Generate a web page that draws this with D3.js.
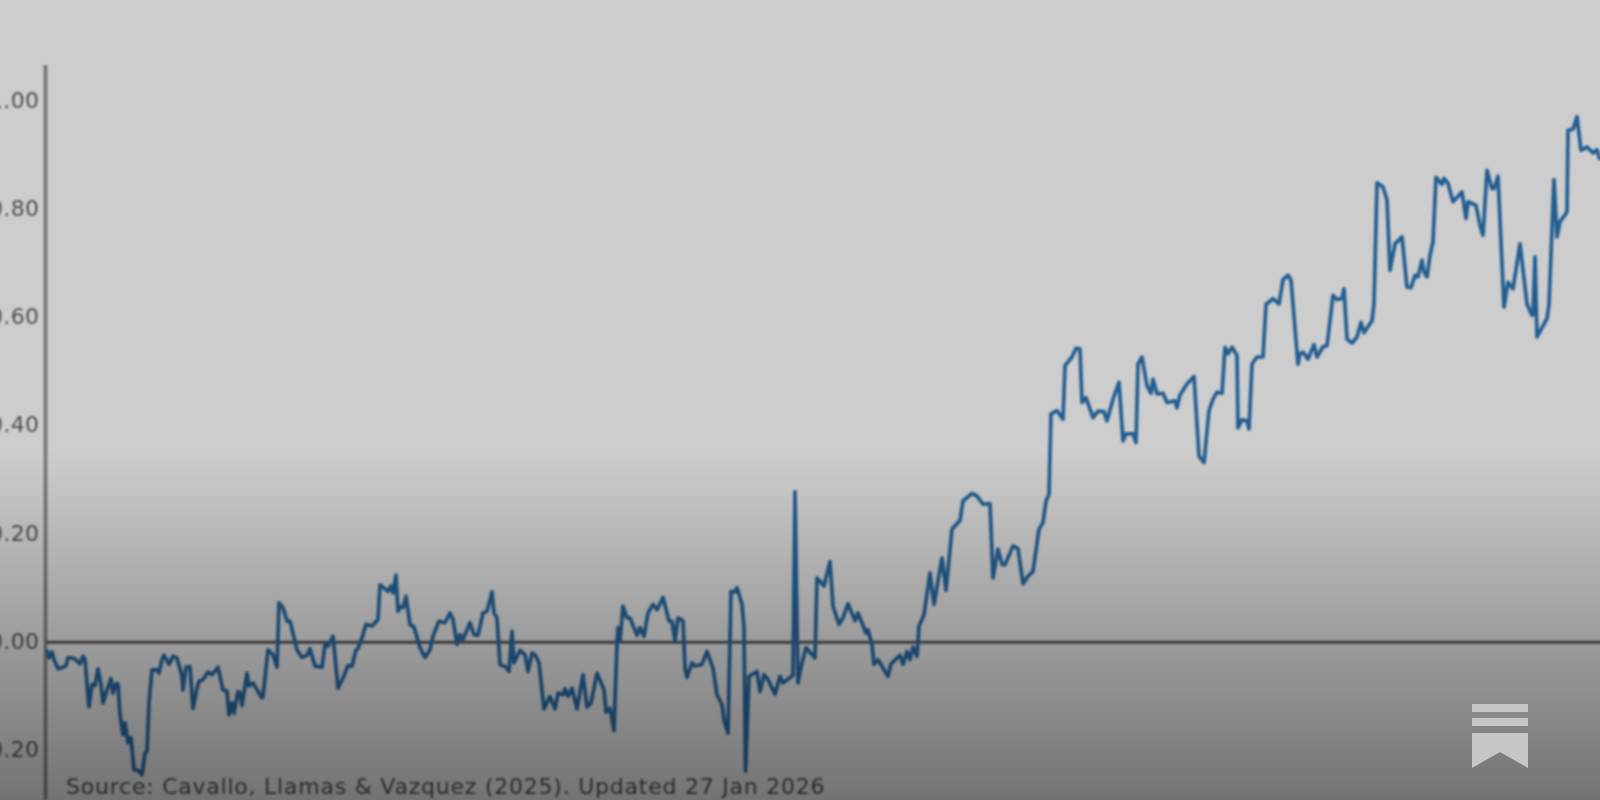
<!DOCTYPE html>
<html>
<head>
<meta charset="utf-8">
<script src="https://cdn.jsdelivr.net/npm/d3@7"></script>
<style>
  html, body { margin: 0; padding: 0; background: #cdcdcd; overflow: hidden; }
  svg { display: block; }
  text { font-family: "DejaVu Sans", sans-serif; }
</style>
</head>
<body>
<div class="visual"></div>
<script>
// Values. The x axis has no labels, so days are counted from the start of the line
const days = [
  1,3,6,8,12,17,20,22,26,29,34,37,39,41,43,46,49,52,55,57,60,65,67,70,72,74,77,79,82,85,88,92,96,99,101,103,106,111,113,116,118,123,127,131,136,137,140,144,147,151,153,157,162,166,172,177,181,183,186,188,192,194,196,201,203,207,216,217,222,227,231,233,237,241,244,251,256,261,264,269,276,279,282,287,292,297,302,306,310,312,316,320,326,332,334,339,342,345,347,350,352,
  354,357,360,364,368,374,379,384,387,393,399,404,407,411,414,417,424,428,432,437,441,446,448,451,454,460,463,466,468,474,479,482,486,489,493,498,504,509,512,517,519,522,526,531,537,541,545,551,558,560,564,568,571,572,574,577,581,584,591,594,598,602,607,611,617,623,626,629,632,637,639,641,646,649,656,661,667,671,676,678,682,685,689,691,696,698,699.5,703,711,714,718,722,729,734,737,746,747,749,
  752,754,760,769,771,778,784,787,793,797,802,809,812,820,822,826,828,832,842,845,854,857,861,864,867,871,873,878,884,888,896,900,906,914,917,926,931,937,944,947,952,956,959,967,972,977,982,987,993,997,1000,1003,
  1005,1011,1017,1019,1026,1030,1034,1036,1040,1047,1052,1058,1061,1067,1073,1077,1080,1087,1090,1092,1096,1101,1105,1107,1111,1117,1121,1129,1131,1134,1141,1148,1153,1158,1163,1167,1171,1176,1179,1182,1186,1191,1192,1196,1201,1203,1206,1211,1217,1220,1227,1233,1237,1242,1245,1252,
  1254,1257,1262,1268,1271,1277,1281,1284,1287,1291,1296,1298,1301,1306,1311,1315,1318,1326,1328,1331,1337,1341,1344,1349,1356,1361,1365,1369,1372,1376,1378,1381,1384,1387,1390,1396,1398,1402,1407,1416,1420,1422,1430,1434,1437,1441,1446,1448,1452,1458,1462,1467,1474,1481,1486,1487,1489,1491,1501,1503,1508,1511,1514,1521,1522,1527,1531,1535,1541,1547,1551,1554
];

const values = [
  -0.014,-0.029,-0.018,-0.032,-0.049,-0.046,-0.043,-0.029,-0.029,-0.031,-0.040,-0.026,-0.032,-0.078,-0.119,-0.078,-0.080,-0.049,-0.078,-0.112,-0.094,-0.067,-0.094,-0.077,-0.077,-0.134,-0.171,-0.149,-0.186,-0.176,-0.236,-0.236,-0.245,-0.205,-0.202,-0.112,-0.051,-0.051,-0.057,-0.032,-0.024,-0.041,-0.026,-0.029,-0.063,-0.088,-0.046,-0.045,-0.122,-0.085,-0.072,-0.069,-0.055,-0.060,-0.046,-0.088,-0.091,-0.134,-0.112,-0.131,-0.091,-0.094,-0.117,-0.057,-0.081,-0.075,-0.103,-0.100,-0.014,-0.023,-0.046,0.073,0.064,0.039,0.039,-0.014,-0.028,-0.024,-0.012,-0.044,-0.046,-0.004,-0.007,0.011,-0.085,-0.066,-0.043,-0.044,-0.014,-0.012,0.008,0.033,0.030,0.042,0.106,0.099,0.094,0.104,0.091,0.124,0.057,
  0.066,0.064,0.085,0.033,0.028,-0.010,-0.028,-0.014,0.011,0.039,0.036,0.054,0.042,-0.004,0.014,0.005,0.036,0.014,0.013,0.054,0.057,0.093,0.054,0.045,-0.041,-0.046,-0.054,0.020,-0.038,-0.015,-0.023,-0.054,-0.020,-0.023,-0.038,-0.123,-0.100,-0.123,-0.094,-0.097,-0.086,-0.100,-0.085,-0.123,-0.060,-0.120,-0.112,-0.057,-0.088,-0.129,-0.122,-0.163,-0.001,0.027,0.002,0.067,0.045,0.045,0.013,0.027,0.011,0.054,0.070,0.060,0.083,0.039,0.039,0.002,0.045,0.040,-0.048,-0.065,-0.038,-0.044,-0.041,-0.017,-0.048,-0.097,-0.115,-0.143,-0.168,0.094,0.093,0.101,0.070,0.027,-0.238,-0.063,-0.054,-0.091,-0.060,-0.069,-0.096,-0.063,-0.075,-0.063,-0.060,0.278,
  -0.075,-0.054,-0.010,-0.029,0.119,0.104,0.149,0.067,0.033,0.045,0.071,0.040,0.054,0.017,0.023,-0.004,-0.041,-0.032,-0.063,-0.040,-0.024,-0.041,-0.017,-0.032,-0.009,-0.026,0.030,0.051,0.128,0.070,0.156,0.096,0.209,0.225,0.261,0.275,0.270,0.255,0.256,0.119,0.172,0.144,0.143,0.178,0.173,0.108,0.122,0.131,0.209,0.221,0.261,0.273,
  0.422,0.428,0.412,0.511,0.527,0.543,0.542,0.443,0.452,0.415,0.427,0.426,0.409,0.449,0.480,0.372,0.385,0.385,0.369,0.514,0.527,0.474,0.460,0.486,0.459,0.460,0.443,0.446,0.433,0.457,0.477,0.491,0.344,0.332,0.428,0.449,0.462,0.460,0.545,0.533,0.545,0.530,0.396,0.411,0.409,0.394,0.514,0.527,0.527,0.624,0.635,0.625,0.670,0.678,0.669,0.514,
  0.533,0.536,0.523,0.550,0.527,0.546,0.548,0.594,0.641,0.633,0.635,0.653,0.560,0.553,0.564,0.591,0.572,0.594,0.625,0.849,0.841,0.817,0.687,0.736,0.749,0.656,0.655,0.678,0.675,0.706,0.684,0.675,0.715,0.740,0.859,0.846,0.857,0.848,0.814,0.832,0.783,0.814,0.807,0.770,0.752,0.872,0.838,0.838,0.861,0.619,0.665,0.653,0.736,0.625,0.604,0.606,0.712,0.564,0.598,0.625,0.855,0.749,0.777,0.795,0.946,0.948,0.971,0.909,0.915,0.904,0.910,0.891
];

const yTicks = [-0.2, 0, 0.2, 0.4, 0.6, 0.8, 1];
const sourceNote = "Source: Cavallo, Llamas & Vazquez (2025). Updated 27 Jan 2026";

const width = 1600;
const height = 800;
const axisX = 45.5;

const svg = d3.select(".visual").append("svg")
    .attr("width", width)
    .attr("height", height);

const defs = svg.append("defs");

// the picture is a soft upscale, a small blur gets the same look
defs.append("filter")
    .attr("id", "soft")
    .attr("x", "-5%").attr("y", "-5%").attr("width", "110%").attr("height", "110%")
    .append("feGaussianBlur")
    .attr("stdDeviation", 0.8);

const shade = defs.append("linearGradient")
    .attr("id", "shade")
    .attr("x1", 0).attr("y1", 0).attr("x2", 0).attr("y2", 1);
shade.append("stop").attr("offset", "0%").attr("stop-color", "#000").attr("stop-opacity", 0);
shade.append("stop").attr("offset", "100%").attr("stop-color", "#000").attr("stop-opacity", 0.44);

svg.append("rect")
    .attr("width", width)
    .attr("height", height)
    .attr("fill", "#cdcdcd");

const chart = svg.append("g").attr("filter", "url(#soft)");

const x = d3.scaleLinear()
    .domain([0, 1555])
    .range([46, 1601]);

const y = d3.scaleLinear()
    .domain([-0.2, 1])
    .range([750.5, 101]);

// Add y-axis
const yAxis = chart.append("g")
    .attr("transform", `translate(${axisX},-1)`)
    .call(d3.axisLeft(y).tickValues(yTicks).tickSize(0).tickPadding(6).tickFormat(d3.format(".2f")));

yAxis.select(".domain").remove();
yAxis.selectAll("text")
    .style("font-size", "22px")
    .style("letter-spacing", "0.4px")
    .attr("fill", "#4e4e4e");

chart.append("line")
    .attr("x1", axisX).attr("x2", axisX)
    .attr("y1", 65).attr("y2", height)
    .attr("stroke", "#747474")
    .attr("stroke-width", 3.6);

// Zero line
chart.append("line")
    .attr("x1", axisX).attr("x2", width + 5)
    .attr("y1", y(0)).attr("y2", y(0))
    .attr("stroke", "#4c4c4c")
    .attr("stroke-width", 3.2);

const line = d3.line()
    .x(d => x(d[0]))
    .y(d => y(d[1]));

chart.append("path")
    .datum(d3.zip(days, values))
    .attr("fill", "none")
    .attr("stroke", "#225d91")
    .attr("stroke-width", 3.7)
    .attr("stroke-linejoin", "round")
    .attr("d", line);

chart.append("text")
    .attr("x", 66)
    .attr("y", 794)
    .style("font-size", "22px")
    .style("letter-spacing", "0.77px")
    .attr("fill", "#484848")
    .text(sourceNote);

// Dark fade over the lower part of the chart
svg.append("rect")
    .attr("y", 450)
    .attr("width", width)
    .attr("height", height - 450)
    .attr("fill", "url(#shade)");

// Logo bookmark
const logo = svg.append("g").attr("fill", "#c6c6c6");
logo.append("rect").attr("x", 1472).attr("y", 704).attr("width", 56).attr("height", 8);
logo.append("rect").attr("x", 1472).attr("y", 718).attr("width", 56).attr("height", 8);
logo.append("path").attr("d", "M1472,733H1528V768L1500,752L1472,768Z");
</script>
</body>
</html>
